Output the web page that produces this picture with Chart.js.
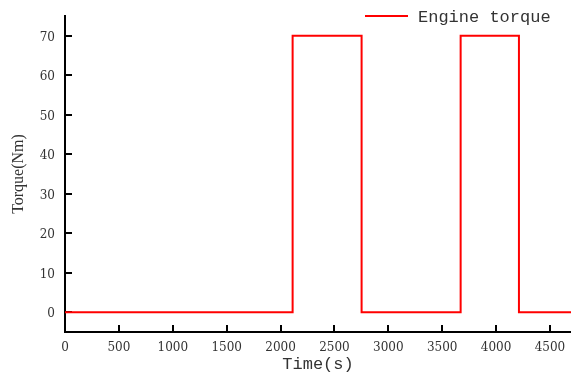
<!DOCTYPE html>
<html>
<head>
<meta charset="utf-8">
<script src="https://cdn.jsdelivr.net/npm/chart.js@4"></script>
<style>
  html, body { margin: 0; padding: 0; background: #fff; }
  #wrap { width: 571px; height: 376px; }
</style>
</head>
<body>
<div id="wrap"><canvas id="torqueChart"></canvas></div>
<script>
// --- Data ---
const timeSec = [0, 2112, 2112, 2752, 2752, 3671, 3671, 4212, 4212, 4700];
const torqueNm = [0, 0, 70, 70, 0, 0, 70, 70, 0, 0];
const xTicks = [0, 500, 1000, 1500, 2000, 2500, 3000, 3500, 4000, 4500];
const yTicks = [0, 10, 20, 30, 40, 50, 60, 70];
const seriesLabel = 'Engine torque';
const xTitle = 'Time(s)';
const yTitle = 'Torque(Nm)';

const tickFont = { family: 'DejaVu Serif', size: 12 };
const titleFont = { family: 'Liberation Mono', size: 17 };
const yTitleFont = { family: 'Liberation Serif', size: 16 };

const points = timeSec.map((t, i) => ({ x: t, y: torqueNm[i] }));

// fixed axis boxes, no extra padding for label overhang
function fixBox(size) {
  return s => {
    if (s.isHorizontal()) s.height = size; else s.width = size;
    s.paddingTop = s.paddingBottom = s.paddingLeft = s.paddingRight = 0;
  };
}

// legend sits top-right, half above the plot area
const cornerLegend = {
  id: 'cornerLegend',
  afterDraw(chart) {
    const ctx = chart.ctx;
    const ds = chart.data.datasets[0];
    const area = chart.chartArea;
    const y = area.top;
    const x0 = area.right - 206;
    ctx.save();
    ctx.strokeStyle = ds.borderColor;
    ctx.lineWidth = 2;
    ctx.beginPath();
    ctx.moveTo(x0, y);
    ctx.lineTo(x0 + 43, y);
    ctx.stroke();
    ctx.fillStyle = '#333';
    ctx.font = `${titleFont.size}px "${titleFont.family}"`;
    ctx.textBaseline = 'middle';
    ctx.fillText(ds.label, x0 + 53, y + 1);
    ctx.restore();
  }
};

new Chart(document.getElementById('torqueChart'), {
  type: 'line',
  data: {
    datasets: [{
      label: seriesLabel,
      data: points,
      borderColor: '#ff0000',
      backgroundColor: '#ff0000',
      borderWidth: 2,
      pointRadius: 0,
      tension: 0,
      fill: false
    }]
  },
  options: {
    responsive: true,
    maintainAspectRatio: false,
    animation: false,
    layout: { padding: { top: 16, right: 0, left: 0, bottom: 0 } },
    plugins: {
      tooltip: { enabled: false },
      legend: { display: false }
    },
    scales: {
      x: {
        type: 'linear',
        min: 0,
        max: 4695,
        afterFit: fixBox(44),
        afterBuildTicks: s => { s.ticks = xTicks.map(v => ({ value: v })); },
        border: { color: '#000', width: 2 },
        grid: { display: true, drawOnChartArea: false, drawTicks: true, tickLength: -7, color: '#000', lineWidth: 2 },
        ticks: { color: '#333', font: tickFont, padding: 16, maxRotation: 0, autoSkip: false, callback: v => String(v) },
        title: { display: true, text: xTitle, color: '#333', font: titleFont, padding: { top: 0, bottom: 1 } }
      },
      y: {
        min: -5,
        max: 75,
        afterFit: fixBox(65),
        afterBuildTicks: s => { s.ticks = yTicks.map(v => ({ value: v })); },
        border: { color: '#000', width: 2 },
        grid: { display: true, drawOnChartArea: false, drawTicks: true, tickLength: -7, color: '#000', lineWidth: 2 },
        ticks: { color: '#333', font: tickFont, padding: 17, labelOffset: 2, autoSkip: false, callback: v => String(v) },
        title: { display: true, text: yTitle, color: '#333', font: yTitleFont, padding: { top: 9, bottom: 0 } }
      }
    }
  },
  plugins: [cornerLegend]
});
</script>
</body>
</html>
